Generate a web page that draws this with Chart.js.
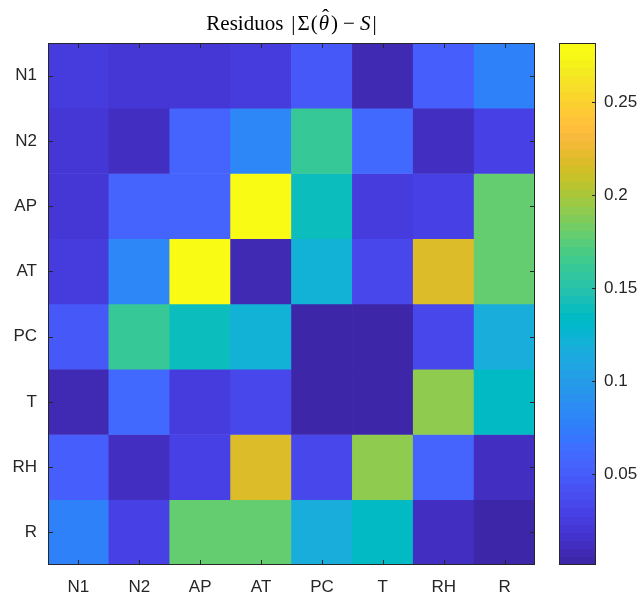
<!DOCTYPE html>
<html>
<head>
<meta charset="utf-8">
<script src="https://cdn.jsdelivr.net/npm/chart.js@4.4.0/dist/chart.umd.min.js"></script>
<style>
body{margin:0;background:#fff;}
#wrap{position:relative;width:641px;height:599px;}
#heat{position:absolute;left:0;top:0;}
#cbar{position:absolute;left:545px;top:0;}
</style>
</head>
<body>
<div id="wrap">
<canvas id="heat" width="545" height="599"></canvas>
<canvas id="cbar" width="96" height="599"></canvas>
</div>
<script>
// variables (rows = columns, matrix is symmetric)
const varLabels = ['N1','N2','AP','AT','PC','T','RH','R'];
const resN1 = [0.025, 0.021, 0.021, 0.025, 0.048, 0.008, 0.051, 0.078];
const resN2 = [0.021, 0.013, 0.056, 0.082, 0.161, 0.062, 0.013, 0.029];
const resAP = [0.021, 0.056, 0.056, 0.282, 0.139, 0.025, 0.029, 0.179];
const resAT = [0.025, 0.082, 0.282, 0.008, 0.121, 0.033, 0.218, 0.179];
const resPC = [0.048, 0.161, 0.139, 0.121, 0.004, 0.004, 0.033, 0.117];
const resT  = [0.008, 0.062, 0.025, 0.033, 0.004, 0.005, 0.192, 0.135];
const resRH = [0.051, 0.013, 0.029, 0.218, 0.033, 0.192, 0.056, 0.013];
const resR  = [0.078, 0.029, 0.179, 0.179, 0.117, 0.135, 0.013, 0.001];
const residuos = [resN1, resN2, resAP, resAT, resPC, resT, resRH, resR];
const cbTicks = [0.05, 0.1, 0.15, 0.2, 0.25];

// matlab parula, 64 steps
const parula = [
[0.2422,0.1504,0.6603],[0.2504,0.1650,0.7076],[0.2578,0.1818,0.7511],[0.2647,0.1978,0.7952],
[0.2706,0.2147,0.8364],[0.2751,0.2342,0.8710],[0.2783,0.2559,0.8991],[0.2803,0.2782,0.9221],
[0.2813,0.3006,0.9414],[0.2810,0.3228,0.9579],[0.2795,0.3447,0.9717],[0.2760,0.3667,0.9829],
[0.2699,0.3892,0.9906],[0.2602,0.4123,0.9952],[0.2440,0.4358,0.9988],[0.2206,0.4603,0.9973],
[0.1963,0.4847,0.9892],[0.1834,0.5074,0.9798],[0.1786,0.5289,0.9682],[0.1764,0.5499,0.9520],
[0.1687,0.5703,0.9359],[0.1540,0.5902,0.9218],[0.1460,0.6091,0.9079],[0.1380,0.6276,0.8973],
[0.1248,0.6459,0.8883],[0.1113,0.6635,0.8763],[0.0952,0.6798,0.8598],[0.0689,0.6948,0.8394],
[0.0297,0.7082,0.8163],[0.0036,0.7203,0.7917],[0.0067,0.7312,0.7660],[0.0433,0.7411,0.7394],
[0.0964,0.7500,0.7120],[0.1408,0.7584,0.6842],[0.1717,0.7670,0.6554],[0.1938,0.7758,0.6251],
[0.2161,0.7843,0.5923],[0.2470,0.7918,0.5567],[0.2906,0.7973,0.5188],[0.3406,0.8008,0.4789],
[0.3909,0.8029,0.4354],[0.4456,0.8024,0.3909],[0.5044,0.7993,0.3480],[0.5616,0.7942,0.3045],
[0.6174,0.7876,0.2612],[0.6720,0.7793,0.2227],[0.7242,0.7698,0.1910],[0.7738,0.7598,0.1646],
[0.8203,0.7498,0.1535],[0.8634,0.7406,0.1596],[0.9035,0.7330,0.1774],[0.9393,0.7288,0.2100],
[0.9728,0.7298,0.2394],[0.9956,0.7434,0.2371],[0.9970,0.7659,0.2199],[0.9952,0.7893,0.2028],
[0.9892,0.8136,0.1885],[0.9808,0.8394,0.1765],[0.9721,0.8655,0.1641],[0.9644,0.8921,0.1482],
[0.9582,0.9196,0.1255],[0.9595,0.9480,0.0994],[0.9661,0.9750,0.0850],[0.9769,0.9839,0.0805]
];

const allVals = residuos.flat();
const vmin = Math.min(...allVals);
const vmax = Math.max(...allVals);

function rgbOf(c){
    return 'rgb(' + Math.round(c[0]*255) + ',' + Math.round(c[1]*255) + ',' + Math.round(c[2]*255) + ')';
}
function cmap(v){
    let i = Math.floor((v - vmin) / (vmax - vmin) * 64);
    if (i < 0) i = 0;
    if (i > 63) i = 63;
    return rgbOf(parula[i]);
}

const axisColor = '#262626';
const tickFont = {family: '"Liberation Sans", Arial, Helvetica, sans-serif', size: 17};

// box + inward ticks like matlab
const heatFrame = {
    id: 'heatFrame',
    afterDraw(chart){
        const ctx = chart.ctx, a = chart.chartArea;
        const xs = chart.scales.x, ys = chart.scales.y;
        ctx.save();
        ctx.strokeStyle = axisColor;
        ctx.lineWidth = 1;
        ctx.beginPath();
        varLabels.forEach((l, j) => {
            const x = Math.round(xs.getPixelForValue(j)) + 0.5;
            ctx.moveTo(x, a.top); ctx.lineTo(x, a.top + 5);
            ctx.moveTo(x, a.bottom); ctx.lineTo(x, a.bottom - 5);
        });
        varLabels.forEach((l, i) => {
            const y = Math.round(ys.getPixelForValue(i + 0.5)) + 0.5;
            ctx.moveTo(a.left, y); ctx.lineTo(a.left + 5, y);
            ctx.moveTo(a.right, y); ctx.lineTo(a.right - 5, y);
        });
        ctx.stroke();
        ctx.strokeRect(Math.round(a.left) + 0.5, Math.round(a.top) + 0.5, Math.round(a.right - a.left) - 1, Math.round(a.bottom - a.top) - 1);

        // title, latex-ish: [text, style, gap after]
        const parts = [
            ['Residuos', '', 8], ['|', '', 2], ['\u03A3', '', 1], ['(', '', 1],
            ['\u03B8', 'italic ', 2], [')', '', 5], ['\u2212', '', 5], ['S', 'italic ', 2], ['|', '', 0]
        ];
        const fam = '21px "Liberation Serif", "DejaVu Serif", serif';
        let total = 0;
        parts.forEach(p => { ctx.font = p[1] + fam; total += ctx.measureText(p[0]).width + p[2]; });
        let x = (a.left + a.right) / 2 - total / 2;
        const base = 30;
        ctx.fillStyle = '#000';
        ctx.textBaseline = 'alphabetic';
        ctx.textAlign = 'left';
        parts.forEach(p => {
            ctx.font = p[1] + fam;
            const w = ctx.measureText(p[0]).width;
            ctx.fillText(p[0], x, base);
            if (p[0] === '\u03B8') {
                ctx.font = fam;
                ctx.textAlign = 'center';
                ctx.fillText('\u02C6', x + w / 2 + 1.5, base - 6);
                ctx.textAlign = 'left';
            }
            x += w + p[2];
        });
        ctx.restore();
    }
};

new Chart(document.getElementById('heat'), {
    type: 'bar',
    data: {
        labels: varLabels,
        datasets: residuos.map((row, r) => ({
            label: varLabels[r],
            data: row.map(() => [r, r + 1]),
            backgroundColor: row.map(v => cmap(v)),
            borderWidth: 0,
            grouped: false,
            barPercentage: 1,
            categoryPercentage: 1
        }))
    },
    options: {
        responsive: false,
        animation: false,
        layout: {padding: {top: 43, right: 10, left: 0, bottom: 0}},
        plugins: {legend: {display: false}, title: {display: false}, tooltip: {enabled: false}},
        scales: {
            x: {
                grid: {display: false, drawTicks: false},
                border: {display: false},
                ticks: {color: axisColor, font: tickFont, padding: 12, maxRotation: 0},
                afterFit(s){ s.height = 34; }
            },
            y: {
                type: 'linear',
                min: 0,
                max: 8,
                reverse: true,
                grid: {display: false, drawTicks: false},
                border: {display: false},
                afterBuildTicks(s){ s.ticks = varLabels.map((l, i) => ({value: i + 0.5})); },
                ticks: {color: axisColor, font: tickFont, padding: 11, callback: (v, i) => varLabels[i]},
                afterFit(s){ s.width = 48; }
            }
        }
    },
    plugins: [heatFrame]
});

// colorbar
const cbPaint = {
    id: 'cbPaint',
    beforeDatasetsDraw(chart){
        const ctx = chart.ctx, a = chart.chartArea, ys = chart.scales.y;
        ctx.save();
        for (let i = 0; i < 64; i++) {
            const y0 = ys.getPixelForValue(vmin + (vmax - vmin) * i / 64);
            const y1 = ys.getPixelForValue(vmin + (vmax - vmin) * (i + 1) / 64);
            ctx.fillStyle = rgbOf(parula[i]);
            ctx.fillRect(a.left, Math.floor(y1), a.right - a.left, Math.ceil(y0) - Math.floor(y1));
        }
        ctx.restore();
    },
    afterDraw(chart){
        const ctx = chart.ctx, a = chart.chartArea, ys = chart.scales.y;
        ctx.save();
        ctx.strokeStyle = axisColor;
        ctx.lineWidth = 1;
        ctx.beginPath();
        cbTicks.forEach(t => {
            const y = Math.round(ys.getPixelForValue(t)) + 0.5;
            ctx.moveTo(a.right, y); ctx.lineTo(a.right - 4, y);
        });
        ctx.stroke();
        ctx.strokeRect(Math.round(a.left) + 0.5, Math.round(a.top) + 0.5, Math.round(a.right - a.left) - 1, Math.round(a.bottom - a.top) - 1);
        ctx.restore();
    }
};

new Chart(document.getElementById('cbar'), {
    type: 'bar',
    data: {labels: [''], datasets: [{data: [null]}]},
    options: {
        responsive: false,
        animation: false,
        layout: {padding: {top: 43, left: 14, right: 0, bottom: 34}},
        plugins: {legend: {display: false}, tooltip: {enabled: false}},
        scales: {
            x: {display: false},
            y: {
                position: 'right',
                min: vmin,
                max: vmax,
                grid: {display: false, drawTicks: false},
                border: {display: false},
                afterBuildTicks(s){ s.ticks = cbTicks.map(v => ({value: v})); },
                ticks: {color: axisColor, font: tickFont, padding: 8, callback: v => String(v)},
                afterFit(s){ s.width = 45; }
            }
        }
    },
    plugins: [cbPaint]
});
</script>
</body>
</html>
